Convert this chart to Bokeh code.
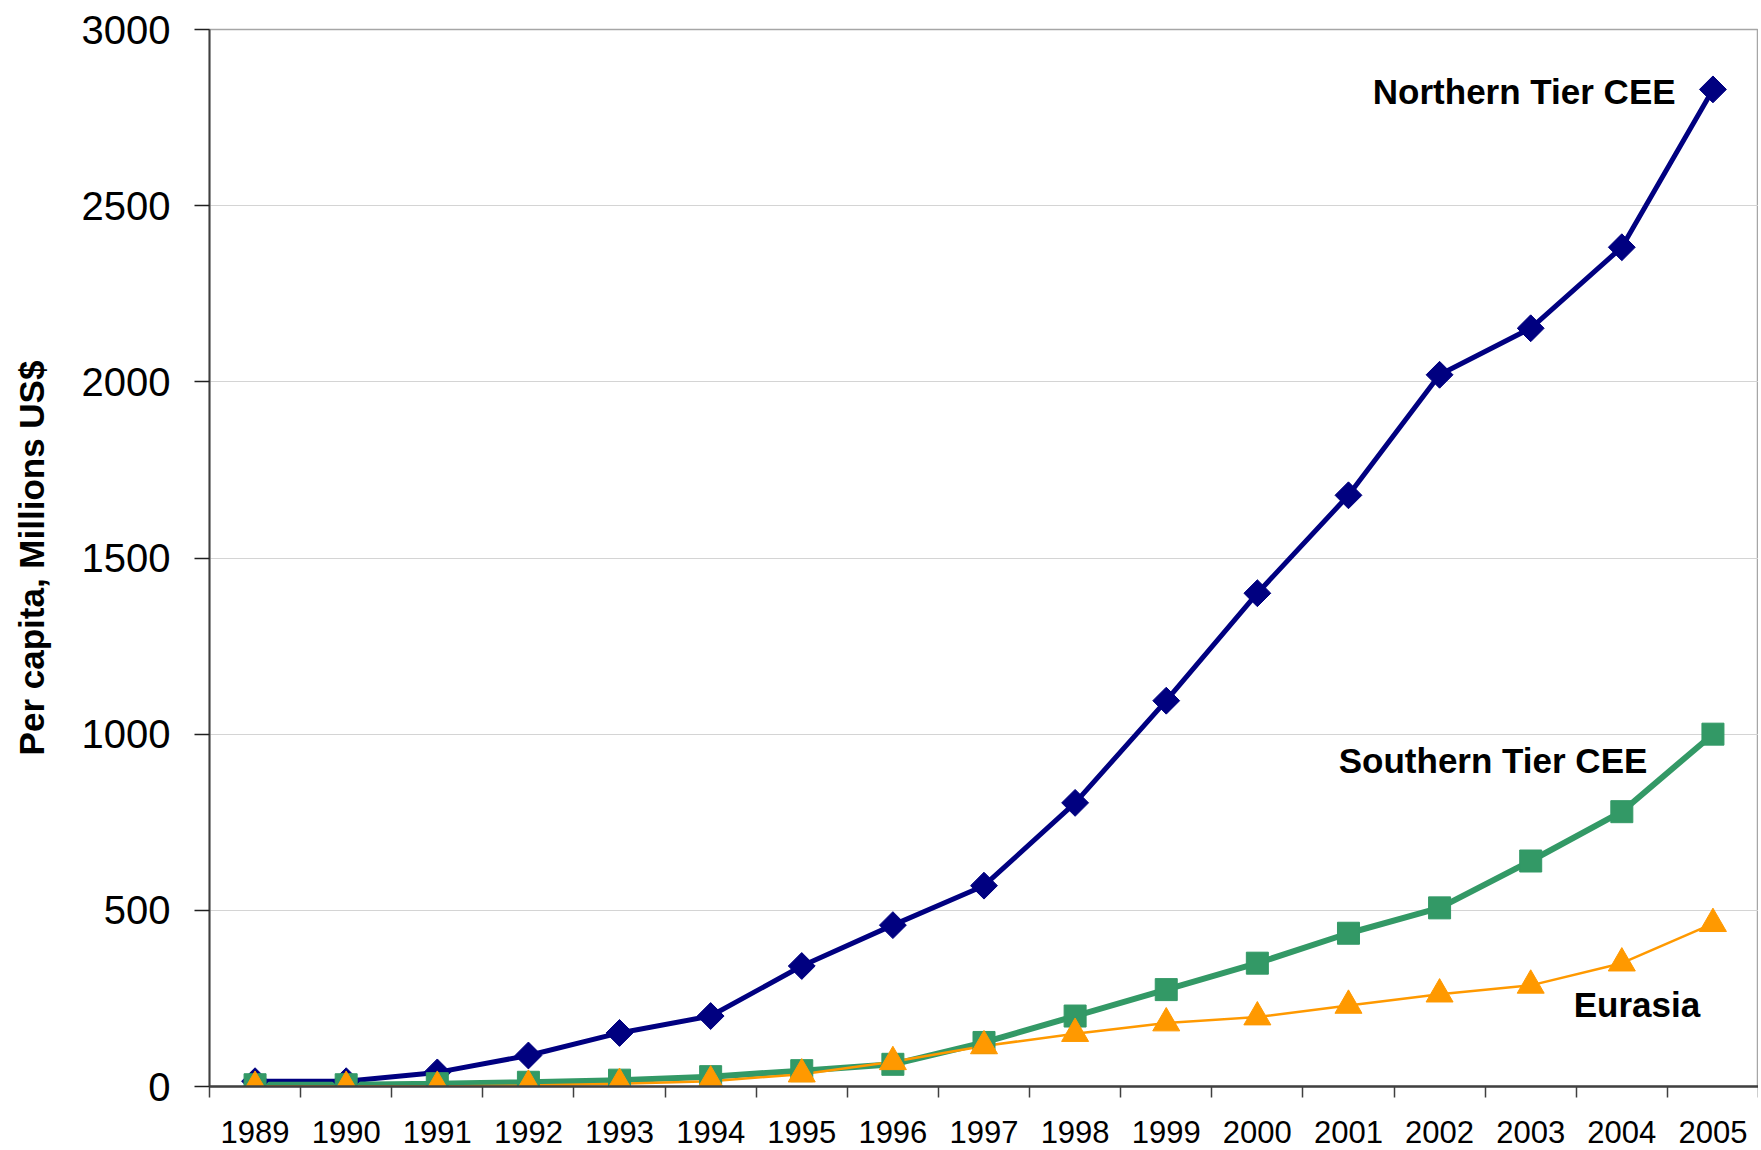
from bokeh.plotting import figure
from bokeh.models import FixedTicker, ColumnDataSource
from bokeh.core.properties import value
from bokeh.embed import file_html
from bokeh.resources import INLINE
import math

years = [1989, 1990, 1991, 1992, 1993, 1994, 1995, 1996, 1997, 1998, 1999, 2000, 2001, 2002, 2003, 2004, 2005]
year_labels = [str(y) for y in years]
northern = [15, 15, 40, 88, 152, 200, 342, 458, 570, 805, 1095, 1400, 1678, 2020, 2152, 2382, 2830]
southern = [5, 5, 8, 12, 18, 28, 45, 63, 125, 200, 275, 350, 435, 507, 640, 780, 1000]
eurasia = [0, 0, 0, 3, 8, 15, 35, 70, 115, 150, 180, 197, 230, 262, 287, 350, 462]
y_ticks = [0, 500, 1000, 1500, 2000, 2500, 3000]

label_texts = ["Northern Tier CEE", "Southern Tier CEE", "Eurasia"]
label_x = [2004.59, 2004.28, 2004.86]
label_y = [2824, 925, 233]

FONT = "Liberation Sans"

p = figure(width=1758, height=1150, output_backend="svg", toolbar_location=None,
           x_range=(years[0] - 0.5, years[-1] + 0.5), y_range=(0, 3000),
           min_border_left=209, min_border_top=29, min_border_bottom=64, min_border_right=0)

p.outline_line_color = "#a6a6a6"
p.outline_line_width = 1.5
p.background_fill_color = "white"
p.border_fill_color = "white"

# x axis
xa = p.xaxis[0]
xa.ticker = FixedTicker(ticks=years, minor_ticks=[y - 0.5 for y in years] + [years[-1] + 0.5])
xa.major_label_overrides = {y: l for y, l in zip(years, year_labels)}
xa.major_tick_line_color = None
xa.minor_tick_line_color = "#404040"
xa.minor_tick_line_width = 1.5
xa.minor_tick_out = 11
xa.minor_tick_in = 0
xa.axis_line_color = "#404040"
xa.axis_line_width = 2.5
xa.major_label_text_font = FONT
xa.major_label_text_font_size = "31px"
xa.major_label_text_color = "black"
xa.major_label_standoff = 23

# y axis
ya = p.yaxis[0]
ya.ticker = FixedTicker(ticks=y_ticks, minor_ticks=[])
ya.major_tick_line_color = "#202020"
ya.major_tick_line_width = 1.5
ya.major_tick_out = 15
ya.major_tick_in = 0
ya.axis_line_color = "#404040"
ya.axis_line_width = 2
ya.major_label_text_font = FONT
ya.major_label_text_font_size = "40px"
ya.major_label_text_color = "black"
ya.major_label_standoff = 24
ya.axis_label = "Per capita, Millions US$"
ya.axis_label_text_font = FONT
ya.axis_label_text_font_style = "bold"
ya.axis_label_text_font_size = "35px"
ya.axis_label_text_color = "black"
ya.axis_label_standoff = 28

p.xgrid.grid_line_color = None
p.ygrid.grid_line_color = "#d4d4d4"
p.ygrid.grid_line_width = 1

NAVY = "#000080"
GREEN = "#339966"
ORANGE = "#FF9900"

p.line(years, northern, line_color=NAVY, line_width=5)
p.line(years, southern, line_color=GREEN, line_width=6)
p.line(years, eurasia, line_color=ORANGE, line_width=2.5)

p.scatter(years, northern, marker="square", size=19, angle=math.pi / 4,
          fill_color=NAVY, line_color=NAVY)
p.scatter(years, southern, marker="square", size=22, fill_color=GREEN, line_color=GREEN)
p.scatter(years, eurasia, marker="triangle", size=27, fill_color=ORANGE, line_color=ORANGE)

src = ColumnDataSource(dict(x=label_x, y=label_y, t=label_texts))
p.text(x="x", y="y", text="t", source=src, text_align="right", text_baseline="middle",
       text_font=value(FONT), text_font_style="bold", text_font_size="35px", text_color="black")

open("out.html", "w").write(file_html(p, INLINE))
